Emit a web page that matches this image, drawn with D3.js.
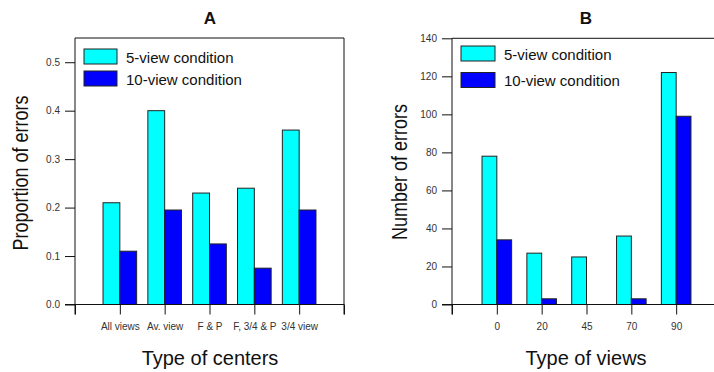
<!DOCTYPE html>
<html>
<head>
<meta charset="utf-8">
<script src="https://cdn.jsdelivr.net/npm/d3@7"></script>
<style>
  body { margin: 0; background: #fff; }
  text { font-family: "Liberation Sans", Arial, sans-serif; fill: #111; }
  .tick-label { font-size: 10px; fill: #333; }
  .x-title { font-size: 20px; }
  .y-title { font-size: 18px; }
  .panel-title { font-size: 17px; font-weight: bold; }
  .legend text { font-size: 15px; }
</style>
</head>
<body>
<script>
// Panel A data
var centers = ["All views", "Av. view", "F & P", "F, 3/4 & P", "3/4 view"];
var centers5 = [0.21, 0.40, 0.23, 0.24, 0.36];
var centers10 = [0.11, 0.195, 0.125, 0.075, 0.195];
var propTicks = [0, 0.1, 0.2, 0.3, 0.4, 0.5];

// Panel B data
var views = ["0", "20", "45", "70", "90"];
var views5 = [78, 27, 25, 36, 122];
var views10 = [34, 3, 0, 3, 99];
var countTicks = [0, 20, 40, 60, 80, 100, 120, 140];

var seriesNames = ["5-view condition", "10-view condition"];
var colors = ["#00ffff", "#0000ff"];

var svg = d3.select("body").append("svg")
    .attr("width", 714)
    .attr("height", 372);

function panel(p) {
  var g = svg.append("g");

  var x = d3.scaleLinear().domain([0, p.cats.length + 1]).range([p.left, p.right]),
      y = d3.scaleLinear().domain(p.yDomain).range([p.bottom, p.top]),
      step = x(1) - x(0),
      bw = step * p.barFrac;

  // bars
  [p.s5, p.s10].forEach(function(vals, s) {
    g.selectAll(".bar" + s)
        .data(vals)
      .enter().append("rect")
        .attr("x", function(d, i) { return s === 0 ? x(i + 1) - bw : x(i + 1); })
        .attr("y", function(d) { return y(d); })
        .attr("width", bw)
        .attr("height", function(d) { return p.bottom - y(d); })
        .attr("fill", colors[s])
        .attr("stroke", "#222")
        .attr("stroke-width", 1);
  });

  // frame: top, right
  g.append("path")
      .attr("d", "M" + p.left + "," + p.top + "H" + p.right + "V" + (p.bottom + 10))
      .attr("fill", "none")
      .attr("stroke", "#111");

  // y axis
  var yAxis = d3.axisLeft(y).tickValues(p.yTicks).tickSize(10).tickPadding(5)
      .tickFormat(p.yFormat);
  var ya = g.append("g")
      .attr("transform", "translate(" + p.left + ",0)")
      .call(yAxis);
  ya.select(".domain").remove();
  ya.append("line")
      .attr("x1", 0).attr("x2", 0)
      .attr("y1", p.top).attr("y2", p.bottom + 10)
      .attr("stroke", "#111");
  ya.selectAll(".tick line").attr("stroke", "#111");
  ya.selectAll(".tick text").attr("class", "tick-label").attr("font-size", null)
      .attr("font-family", null);

  // x axis
  var xAxis = d3.axisBottom(x).tickValues(d3.range(0, p.cats.length + 2)).tickSize(10).tickPadding(8)
      .tickFormat(function(d) { return p.cats[d - 1] || ""; });
  var xa = g.append("g")
      .attr("transform", "translate(0," + p.bottom + ")")
      .call(xAxis);
  xa.select(".domain").remove();
  xa.append("line")
      .attr("x1", p.left - 10).attr("x2", p.right)
      .attr("stroke", "#111");
  xa.selectAll(".tick line").attr("stroke", "#111");
  xa.selectAll(".tick text").attr("class", "tick-label").attr("font-size", null)
      .attr("font-family", null);

  // titles
  g.append("text")
      .attr("class", "panel-title")
      .attr("x", p.titleX)
      .attr("y", 24)
      .attr("text-anchor", "middle")
      .text(p.title);

  g.append("text")
      .attr("class", "y-title")
      .attr("transform", "translate(" + p.yLabelX + "," + p.yLabelY + ")rotate(-90)scale(1,1.18)")
      .attr("text-anchor", "middle")
      .text(p.yLabel);

  g.append("text")
      .attr("class", "x-title")
      .attr("x", p.titleX)
      .attr("y", 365)
      .attr("text-anchor", "middle")
      .text(p.xLabel);

  // legend
  var leg = g.append("g")
      .attr("class", "legend")
      .attr("transform", "translate(" + p.legX + "," + p.legY + ")");
  var item = leg.selectAll("g")
      .data(seriesNames)
    .enter().append("g")
      .attr("transform", function(d, i) { return "translate(0," + i * p.legGap + ")"; });
  item.append("rect")
      .attr("width", p.legW)
      .attr("height", 15)
      .attr("fill", function(d, i) { return colors[i]; })
      .attr("stroke", "#222");
  item.append("text")
      .attr("x", p.legW + 9)
      .attr("y", 13.5)
      .text(function(d) { return d; });
}

panel({
  cats: centers, s5: centers5, s10: centers10,
  yDomain: [0, 0.55], yTicks: propTicks, yFormat: d3.format(".1f"),
  left: 75, right: 344, top: 38, bottom: 304.5, barFrac: 0.375,
  title: "A", titleX: 210, yLabel: "Proportion of errors", yLabelX: 28, yLabelY: 173,
  xLabel: "Type of centers",
  legX: 84, legY: 49, legW: 33, legGap: 22
});

panel({
  cats: views, s5: views5, s10: views10,
  yDomain: [0, 140], yTicks: countTicks, yFormat: d3.format("d"),
  left: 452, right: 721, top: 38.3, bottom: 304.5, barFrac: 0.33,
  title: "B", titleX: 586, yLabel: "Number of errors", yLabelX: 407, yLabelY: 172,
  xLabel: "Type of views",
  legX: 461, legY: 46, legW: 34, legGap: 26.5
});
</script>
</body>
</html>
